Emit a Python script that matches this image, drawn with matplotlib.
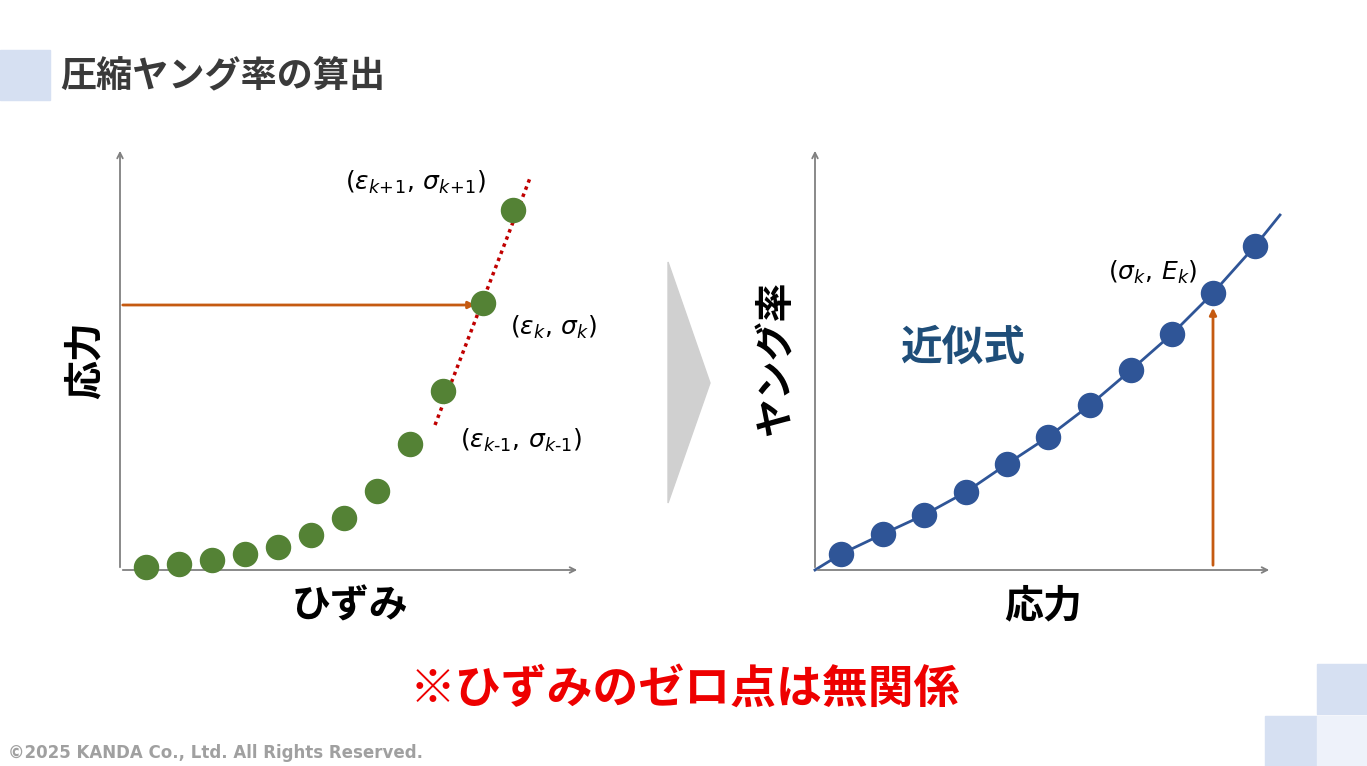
import matplotlib
matplotlib.use("Agg")
import matplotlib.pyplot as plt
from matplotlib.patches import Polygon, Rectangle

plt.rcParams['font.family'] = ['Noto Sans CJK JP', 'DejaVu Sans']

W, H = 1367, 766
# left chart data (strain, stress)
strain = [26, 59, 92, 125, 158, 191, 224, 257, 290, 323, 363, 393]
stress = [3, 6, 10, 16, 23, 35, 52, 79, 126, 179, 267, 360]
tangent_x = [315, 410]
tangent_y = [145, 392]
# right chart data (stress, modulus)
stress2 = [26, 68, 109, 151, 192, 233, 275, 316, 357, 398, 440]
modulus = [16, 36, 55, 78, 106, 133, 165, 200, 236, 277, 324]
fit_x = [0, 26, 68, 109, 151, 192, 233, 275, 316, 357, 398, 440, 465]
fit_y = [0, 16, 36, 55, 78, 106, 133, 165, 200, 236, 277, 324, 355]

fig = plt.figure(figsize=(W/100, H/100), dpi=100)
bg = fig.add_axes([0, 0, 1, 1])
bg.set_xlim(0, W); bg.set_ylim(H, 0); bg.axis('off')

def ax_at(x0, y0, x1, y1):
    return fig.add_axes([x0/W, 1-y1/H, (x1-x0)/W, (y1-y0)/H])

# decorations
bg.add_patch(Rectangle((0, 50), 50, 50, color='#d6e0f2'))
bg.text(60, 77, '圧縮ヤング率の算出', fontsize=26, fontweight='bold', color='#3a3a3a', va='center')
bg.add_patch(Rectangle((1317, 664), 50, 50, color='#d6e0f2'))
bg.add_patch(Rectangle((1265, 716), 52, 50, color='#d6e0f2'))
bg.add_patch(Rectangle((1317, 716), 50, 50, color='#eef2fa'))
bg.add_patch(Polygon([(668, 262), (710, 383), (668, 503)], color='#d0d0d0'))
bg.text(8, 753, '©2025 KANDA Co., Ltd. All Rights Reserved.', fontsize=12, fontweight='bold',
        color='#a0a0a0', va='center', family=['DejaVu Sans'])
bg.text(685, 690, '※ひずみのゼロ点は無関係', fontsize=33, fontweight='bold', color='#ee0000',
        ha='center', va='center')

# left axes
axL = ax_at(120, 148, 580, 570)
axL.set_xlim(0, 460); axL.set_ylim(0, 422); axL.axis('off')
arr = dict(arrowstyle='->', color='#808080', lw=1.3)
axL.annotate('', xy=(460, 0), xytext=(0, 0), arrowprops=arr)
axL.annotate('', xy=(0, 422), xytext=(0, 0), arrowprops=arr)
axL.plot(tangent_x, tangent_y, color='#c00000', lw=2.5, ls=(0, (1, 1.2)))
axL.annotate('', xy=(358, 265), xytext=(0, 265),
             arrowprops=dict(arrowstyle='-|>', color='#c55a11', lw=2))
axL.scatter(strain, stress, s=300, color='#548235', zorder=5, clip_on=False)
axL.text(225, 380, r'$(\varepsilon_{k\!+\!1},\,\sigma_{k\!+\!1})$', fontsize=18, family=['DejaVu Sans'])
axL.text(390, 235, r'$(\varepsilon_{k},\,\sigma_{k})$', fontsize=18, family=['DejaVu Sans'])
axL.text(340, 122, r'$(\varepsilon_{k\text{-}1},\,\sigma_{k\text{-}1})$', fontsize=18, family=['DejaVu Sans'])
bg.text(350, 606, 'ひずみ', fontsize=28, fontweight='bold', ha='center', va='center')
bg.text(85, 360, '応力', fontsize=28, fontweight='bold', ha='center', va='center', rotation=90)

# right axes
axR = ax_at(815, 148, 1272, 570)
axR.set_xlim(0, 457); axR.set_ylim(0, 422); axR.axis('off')
axR.annotate('', xy=(457, 0), xytext=(0, 0), arrowprops=arr)
axR.annotate('', xy=(0, 422), xytext=(0, 0), arrowprops=arr)
axR.plot(fit_x, fit_y, color='#2f5597', lw=2, clip_on=False)
axR.annotate('', xy=(398, 265), xytext=(398, 2),
             arrowprops=dict(arrowstyle='-|>', color='#c55a11', lw=2))
axR.scatter(stress2, modulus, s=300, color='#2f5597', zorder=5, clip_on=False)
axR.text(293, 290, r'$(\sigma_{k},\,E_{k})$', fontsize=18, family=['DejaVu Sans'])
axR.text(85, 210, '近似式', fontsize=30, fontweight='bold', color='#1f4e79')
bg.text(1043, 606, '応力', fontsize=28, fontweight='bold', ha='center', va='center')
bg.text(776, 358, 'ヤング率', fontsize=28, fontweight='bold', ha='center', va='center', rotation=90)

fig.savefig('out.png', dpi=100)
